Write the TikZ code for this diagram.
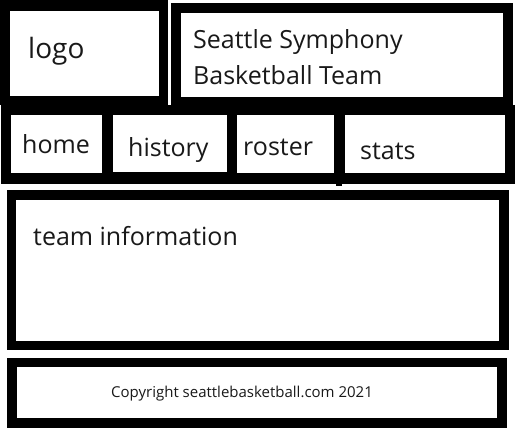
\documentclass[tikz,border=0pt]{standalone}
\usepackage{fontspec}
\setmainfont{Open Sans}
\begin{document}
\begin{tikzpicture}[x=1pt,y=-1pt,
  outer/.style={fill=black},
  inner/.style={fill=white},
  lbl/.style={anchor=base west,inner sep=0pt,text=black!90},
  big/.style={font=\fontsize{25}{30}\selectfont},
  huge/.style={font=\fontsize{28}{33}\selectfont},
  small/.style={font=\fontsize{15}{18}\selectfont}]
\useasboundingbox[fill=white] (0,0) rectangle (520,432);
% logo
\path[outer] (0,0) rectangle (168,105);
\path[inner] (10,11) rectangle (159,96);
% title
\path[outer] (171,3) rectangle (513,106);
\path[inner] (181,13) rectangle (503,97);
% nav
\path[outer] (1,105) rectangle (515,184);
\path[inner] (11,115) rectangle (102,173);
\path[inner] (113,115) rectangle (227,172);
\path[inner] (237,115) rectangle (334,173);
\path[inner] (345,115) rectangle (505,173);
\path[outer] (336,183) rectangle (342,186);
% team info
\path[outer] (7,190) rectangle (509,350);
\path[inner] (16,200) rectangle (499,341);
% footer
\path[outer] (7,358) rectangle (507,428);
\path[inner] (17,367) rectangle (497,418);
% texts
\node[lbl,huge] (logo) at (28,58) {logo};
\node[lbl,big] (t1) at (193,48) {Seattle Symphony};
\node[lbl,big] (t2) at (193,84) {Basketball Team};
\node[lbl,big] (home) at (22,153) {home};
\node[lbl,big] (hist) at (128,156) {history};
\node[lbl,big] (rost) at (243,155) {roster};
\node[lbl,big] (stats) at (360,159) {stats};
\node[lbl,big] (team) at (33,245) {team information};
\node[lbl,small] (copy) at (111,397) {Copyright seattlebasketball.com 2021};
\end{tikzpicture}
\end{document}
